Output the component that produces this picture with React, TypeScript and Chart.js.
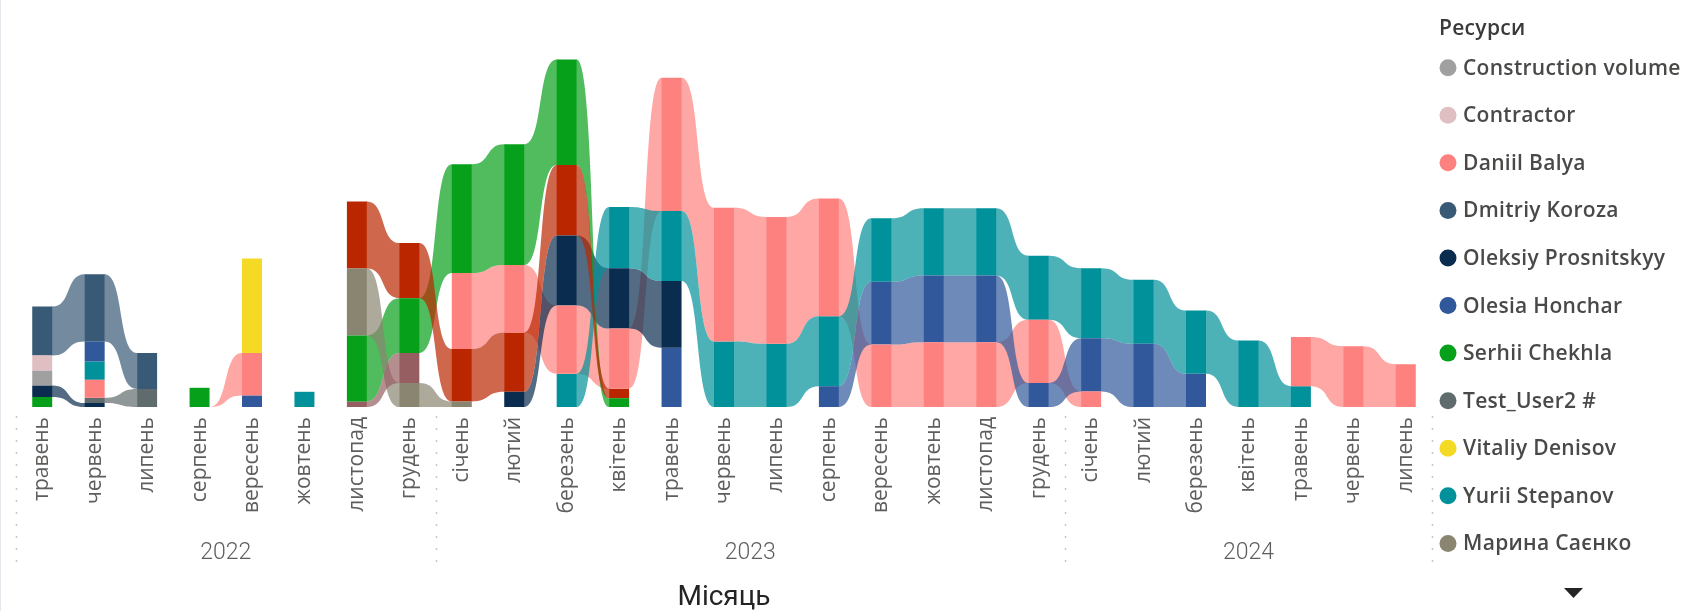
import { useEffect, useRef } from 'react';
import { Chart, registerables } from 'chart.js';

Chart.register(...registerables);

const _ = null;

// Categories (months) and their years
const MONTHS = [
  'травень', 'червень', 'липень', 'серпень', 'вересень', 'жовтень', 'листопад', 'грудень',
  'січень', 'лютий', 'березень', 'квітень', 'травень', 'червень', 'липень', 'серпень',
  'вересень', 'жовтень', 'листопад', 'грудень',
  'січень', 'лютий', 'березень', 'квітень', 'травень', 'червень', 'липень',
];
const MONTH_YEARS = [
  '2022', '2022', '2022', '2022', '2022', '2022', '2022', '2022',
  '2023', '2023', '2023', '2023', '2023', '2023', '2023', '2023', '2023', '2023', '2023', '2023',
  '2024', '2024', '2024', '2024', '2024', '2024', '2024',
];
const YEARS = ['2022', '2023', '2024'];

// Series values (hours), one entry per month, null = no value
const CONSTRUCTION_VOLUME = [37, _, _, _, _, _, _, _, _, _, _, _, _, _, _, _, _, _, _, _, _, _, _, _, _, _, _];
const CONTRACTOR = [38, _, _, _, _, _, _, _, _, _, _, _, _, _, _, _, _, _, _, _, _, _, _, _, _, _, _];
const DANIIL_BALYA = [_, 45, _, 0, 106, _, _, _, 190, 169, 171, 150, 333, 334, 317, 294, 156, 162, 162, 158, 39, _, _, _, 123, 152, 107];
const DMITRIY_KOROZA = [122, 168, 90, _, _, _, _, _, _, _, _, _, _, _, _, _, _, _, _, _, _, _, _, _, _, _, _];
const OLEKSIY_PROSNITSKYY = [29, 10, _, _, _, _, _, _, _, 38, 175, 151, 167, _, _, _, _, _, _, _, _, _, _, _, _, _, _];
const OLESIA_HONCHAR = [_, 50, _, _, 29, _, _, _, _, _, _, _, 148, _, _, 52, 157, 167, 167, 60, 133, 158, 83, _, _, _, _];
const SERHII_CHEKHLA = [25, _, _, 48, _, _, 165, 137, 272, 302, 264, 22, _, _, _, _, _, _, _, _, _, _, _, _, _, _, _];
const TEST_USER2 = [_, 13, 45, _, _, _, _, _, _, _, _, _, _, _, _, _, _, _, _, _, _, _, _, _, _, _, _];
const VITALIY_DENISOV = [_, _, _, _, 236, _, _, _, _, _, _, _, _, _, _, _, _, _, _, _, _, _, _, _, _, _, _];
const YURII_STEPANOV = [_, 46, _, _, _, 38, _, _, _, _, 83, 153, 175, 164, 158, 175, 159, 168, 168, 160, 175, 160, 158, 166, 52, _, _];
const MARYNA_SAIENKO = [_, _, _, _, _, _, 167, 60, 14, _, _, _, _, _, _, _, _, _, _, _, _, _, _, _, _, _, _];
const RESOURCE_12 = [_, _, _, _, _, _, 168, 138, 131, 148, 176, 24, _, _, _, _, _, _, _, _, _, _, _, _, _, _, _];
const RESOURCE_13 = [_, _, _, _, _, _, 14, 75, _, _, _, _, _, _, _, _, _, _, _, _, _, _, _, _, _, _, _];

const SERIES_NAMES = [
  'Construction volume', 'Contractor', 'Daniil Balya', 'Dmitriy Koroza', 'Oleksiy Prosnitskyy',
  'Olesia Honchar', 'Serhii Chekhla', 'Test_User2 #', 'Vitaliy Denisov', 'Yurii Stepanov',
  'Марина Саєнко', 'Ресурс 12', 'Ресурс 13',
];
const SERIES_VALUES = [
  CONSTRUCTION_VOLUME, CONTRACTOR, DANIIL_BALYA, DMITRIY_KOROZA, OLEKSIY_PROSNITSKYY,
  OLESIA_HONCHAR, SERHII_CHEKHLA, TEST_USER2, VITALIY_DENISOV, YURII_STEPANOV,
  MARYNA_SAIENKO, RESOURCE_12, RESOURCE_13,
];
const SERIES_COLORS = [
  '#A0A0A0', '#E0BFC2', '#FD817E', '#395A76', '#0A2D4F',
  '#30589B', '#06A01A', '#5F6B6D', '#F4D925', '#01919A',
  '#8A8571', '#BA2600', '#965E60',
];
const LEGEND_TITLE = 'Ресурси';
const LEGEND_VISIBLE = 11;
const AXIS_TITLE = 'Місяць';

const BAR_FRACTION = 0.381;

// Ribbon stacking: in each month the largest value sits on top
function buildRanges(): ([number, number] | null)[][] {
  const ranges: ([number, number] | null)[][] = SERIES_VALUES.map(() => MONTHS.map(() => null));
  MONTHS.forEach((_m, j) => {
    const present = SERIES_VALUES.map((v, s) => ({ s, v: v[j] })).filter((e) => e.v !== null) as { s: number; v: number }[];
    present.sort((a, b) => a.v - b.v);
    let acc = 0;
    present.forEach((e) => {
      ranges[e.s][j] = [acc, acc + e.v];
      acc += e.v;
    });
  });
  return ranges;
}
const RANGES = buildRanges();

const YEAR_CENTERS = YEARS.map((yr) => {
  const idx = MONTH_YEARS.map((y, i) => (y === yr ? i : -1)).filter((i) => i >= 0);
  return (idx[0] + idx[idx.length - 1]) / 2;
});
const YEAR_BOUNDS = (() => {
  const b: number[] = [-0.5];
  for (let i = 1; i < MONTH_YEARS.length; i++) if (MONTH_YEARS[i] !== MONTH_YEARS[i - 1]) b.push(i - 0.5);
  b.push(MONTH_YEARS.length - 0.5);
  return b;
})();

function rgba(hex: string, a: number) {
  const n = parseInt(hex.slice(1), 16);
  return `rgba(${(n >> 16) & 255},${(n >> 8) & 255},${n & 255},${a})`;
}

const ribbonPlugin = {
  id: 'ribbons',
  beforeDatasetsDraw(chart: any) {
    const { ctx, scales } = chart;
    const x = scales.x;
    const y = scales.y;
    const step = x.getPixelForValue(1) - x.getPixelForValue(0);
    const hw = (step * BAR_FRACTION) / 2;
    ctx.save();
    RANGES.forEach((rs, s) => {
      ctx.fillStyle = rgba(SERIES_COLORS[s], 0.7);
      for (let i = 0; i < rs.length - 1; i++) {
        const a = rs[i];
        const b = rs[i + 1];
        if (!a || !b) continue;
        const x0 = x.getPixelForValue(i) + hw;
        const x1 = x.getPixelForValue(i + 1) - hw;
        const dx = x1 - x0;
        const c0 = x0 + dx * 0.6;
        const c1 = x1 - dx * 0.6;
        const t0 = y.getPixelForValue(a[1]);
        const b0 = y.getPixelForValue(a[0]);
        const t1 = y.getPixelForValue(b[1]);
        const b1 = y.getPixelForValue(b[0]);
        ctx.beginPath();
        ctx.moveTo(x0 - 0.5, t0);
        ctx.lineTo(x0, t0);
        ctx.bezierCurveTo(c0, t0, c1, t1, x1, t1);
        ctx.lineTo(x1 + 0.5, t1);
        ctx.lineTo(x1 + 0.5, b1);
        ctx.lineTo(x1, b1);
        ctx.bezierCurveTo(c1, b1, c0, b0, x0, b0);
        ctx.lineTo(x0 - 0.5, b0);
        ctx.closePath();
        ctx.fill();
      }
    });
    ctx.restore();
  },
};

const decorPlugin = {
  id: 'decor',
  afterDraw(chart: any) {
    const { ctx, scales } = chart;
    const x = scales.x;
    const step = x.getPixelForValue(1) - x.getPixelForValue(0);
    const px0 = x.getPixelForValue(0);
    ctx.save();
    // left frame line
    ctx.fillStyle = '#E4E7EB';
    ctx.fillRect(0, 0, 1, chart.height);
    // dotted year separators
    ctx.strokeStyle = '#C8C6C4';
    ctx.lineWidth = 1.5;
    ctx.setLineDash([2, 10]);
    YEAR_BOUNDS.forEach((v) => {
      const px = Math.round(px0 + v * step) + 0.5;
      ctx.beginPath();
      ctx.moveTo(px, 416);
      ctx.lineTo(px, 572);
      ctx.stroke();
    });
    ctx.setLineDash([]);
    // legend
    const lx = 1439;
    ctx.textBaseline = 'middle';
    ctx.textAlign = 'left';
    try { (ctx as any).letterSpacing = '0.3px'; } catch (e) { /* ignore */ }
    ctx.fillStyle = '#3B3A39';
    ctx.font = '600 21px "Open Sans"';
    ctx.fillText(LEGEND_TITLE, lx, 29);
    const ds = chart.data.datasets;
    for (let k = 0; k < LEGEND_VISIBLE; k++) {
      const cy = 67.7 + k * 47.57;
      ctx.fillStyle = ds[k].backgroundColor;
      ctx.beginPath();
      ctx.arc(lx + 9, cy, 8.5, 0, Math.PI * 2);
      ctx.fill();
      ctx.fillStyle = '#4A4948';
      ctx.font = '600 21px "Open Sans"';
      ctx.fillText(ds[k].label, lx + 24, cy + 1);
    }
    try { (ctx as any).letterSpacing = '0px'; } catch (e) { /* ignore */ }
    // scroll arrow
    ctx.fillStyle = '#252423';
    ctx.beginPath();
    ctx.moveTo(1564, 588);
    ctx.lineTo(1583, 588);
    ctx.lineTo(1573.5, 598);
    ctx.closePath();
    ctx.fill();
    ctx.restore();
  },
};

export default function App() {
  const ref = useRef<HTMLCanvasElement>(null);
  useEffect(() => {
    if (!ref.current) return;
    const chart = new Chart(ref.current, {
      type: 'bar',
      data: {
        labels: MONTHS,
        datasets: SERIES_NAMES.map((name, s) => ({
          label: name,
          data: RANGES[s].map((r) => (r && r[1] > r[0] ? r : null)) as any,
          backgroundColor: SERIES_COLORS[s],
          borderWidth: 0,
          grouped: false,
          categoryPercentage: BAR_FRACTION,
          barPercentage: 1,
        })),
      },
      options: {
        animation: false,
        responsive: false,
        devicePixelRatio: 1,
        layout: { padding: { top: 47, left: 16, right: 252, bottom: 0 } },
        plugins: { legend: { display: false }, tooltip: { enabled: false } },
        scales: {
          x: {
            type: 'category',
            offset: true,
            weight: 0,
            grid: { display: false, drawTicks: false },
            border: { display: false },
            ticks: {
              minRotation: 90,
              maxRotation: 90,
              autoSkip: false,
              padding: 10,
              color: '#605E5C',
              font: { family: '"Open Sans"', size: 21 },
            },
            afterFit: (s: any) => {
              s.height = 125;
            },
          },
          x2: {
            type: 'linear',
            position: 'bottom',
            offset: false,
            min: -0.5,
            max: MONTHS.length - 0.5,
            weight: 1,
            grid: { display: false, drawTicks: false, offset: false },
            border: { display: false },
            afterBuildTicks: (s: any) => {
              s.ticks = YEAR_CENTERS.map((v) => ({ value: v }));
            },
            ticks: {
              autoSkip: false,
              maxRotation: 0,
              minRotation: 0,
              padding: 7,
              color: '#605E5C',
              font: { family: 'Roboto', size: 23, weight: '300' },
              callback: (_v: any, i: number) => YEARS[i],
            },
            title: {
              display: true,
              text: AXIS_TITLE,
              color: '#252423',
              font: { family: 'Roboto', size: 28 },
              padding: { top: 0, bottom: -4 },
            },
            afterFit: (s: any) => {
              s.height = 79;
            },
          },
          y: { display: false, min: 0, max: 900 },
        },
      },
      plugins: [ribbonPlugin, decorPlugin],
    } as any);
    return () => chart.destroy();
  }, []);
  return (
    <div style={{ position: 'fixed', left: 0, top: 0, width: 1684, height: 611, overflow: 'hidden', background: '#fff' }}>
      <canvas ref={ref} width={1684} height={611} style={{ display: 'block' }} />
    </div>
  );
}
